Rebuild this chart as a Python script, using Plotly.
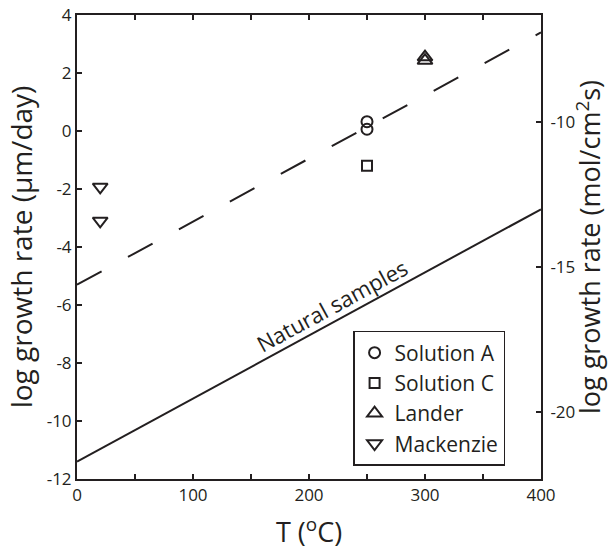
import plotly.graph_objects as go

# Measured growth rates, log10(um/day) versus temperature (deg C)
sol_a_T = [250, 250]
sol_a_rate = [0.32, 0.06]
sol_c_T = [250]
sol_c_rate = [-1.2]
lander_T = [300, 300]
lander_rate = [2.55, 2.43]
mackenzie_T = [20, 20]
mackenzie_rate = [-1.93, -3.1]

# Trend lines (end points at 0 and 400 deg C)
line_T = [0, 400]
dashed_rate = [-5.3, 3.4]
natural_rate = [-11.4, -2.7]

# Offset between log(um/day) and log(mol/cm^2 s)
unit_offset = 10.3

x_ticks = [0, 50, 100, 150, 200, 250, 300, 350, 400]
x_labels = ["0", "", "100", "", "200", "", "300", "", "400"]
y_ticks = [-12, -10, -8, -6, -4, -2, 0, 2, 4]
y_labels = ["-12", "-10", "-8", "-6", "-4", "-2", "0", "2", "4"]
y2_ticks = [-10, -15, -20]
y2_labels = ["-10", "-15", "-20"]

ink = "#231f20"
font_family = "Open Sans, Liberation Sans, sans-serif"

fig = go.Figure()

fig.add_trace(go.Scatter(
    x=line_T, y=dashed_rate, mode="lines", showlegend=False,
    line=dict(color=ink, width=2, dash="28px,30px"), hoverinfo="skip"))
fig.add_trace(go.Scatter(
    x=line_T, y=natural_rate, mode="lines", showlegend=False,
    line=dict(color=ink, width=2), hoverinfo="skip"))

def pts(x, y, name, symbol, size):
    return go.Scatter(
        x=x, y=y, mode="markers", name=name,
        marker=dict(symbol=symbol, size=size, color=ink,
                    line=dict(color=ink, width=2)))

fig.add_trace(pts(sol_a_T, sol_a_rate, "Solution A", "circle-open", 11))
fig.add_trace(pts(sol_c_T, sol_c_rate, "Solution C", "square-open", 10))
fig.add_trace(pts(lander_T, lander_rate, "Lander", "triangle-up-open", 13))
fig.add_trace(pts(mackenzie_T, mackenzie_rate, "Mackenzie", "triangle-down-open", 13))

# invisible trace so the secondary (mol/cm^2 s) axis is drawn
fig.add_trace(go.Scatter(
    x=line_T, y=[v - unit_offset for v in natural_rate], yaxis="y2",
    mode="lines", line=dict(width=0, color="rgba(0,0,0,0)"),
    showlegend=False, hoverinfo="skip"))

fig.add_annotation(
    x=220, y=-6.0, xref="x", yref="y", text="Natural samples",
    showarrow=False, textangle=-28.5,
    font=dict(family=font_family, size=22, color=ink))

fig.update_layout(
    width=608, height=550,
    margin=dict(l=76.5, r=67, t=15, b=71),
    paper_bgcolor="white", plot_bgcolor="white",
    font=dict(family=font_family, color=ink, size=17),
    xaxis=dict(
        range=[0, 400], tickvals=x_ticks, ticktext=x_labels,
        ticks="inside", ticklen=5, tickwidth=1.5, tickcolor=ink,
        showline=True, linecolor=ink, linewidth=2, mirror="ticks",
        showgrid=False, zeroline=False, automargin=False,
        title=dict(text="T (<sup>o</sup>C)", font=dict(size=27), standoff=27),
        tickfont=dict(size=17)),
    yaxis=dict(
        range=[-12, 4], tickvals=y_ticks, ticktext=y_labels,
        ticks="inside", ticklen=5, tickwidth=1.5, tickcolor=ink,
        showline=True, linecolor=ink, linewidth=2, mirror=False,
        showgrid=False, zeroline=False, automargin=False,
        title=dict(text="log growth rate (µm/day)", font=dict(size=28), standoff=6),
        tickfont=dict(size=17)),
    yaxis2=dict(
        range=[-12 - unit_offset, 4 - unit_offset], tickvals=y2_ticks,
        ticktext=y2_labels,
        overlaying="y", side="right",
        ticks="inside", ticklen=5, tickwidth=1.5, tickcolor=ink,
        showline=True, linecolor=ink, linewidth=2,
        showgrid=False, zeroline=False, ticklabelstandoff=4, automargin=False,
        title=dict(text="log growth rate (mol/cm<sup>2</sup>s)", font=dict(size=27), standoff=9),
        tickfont=dict(size=17)),
    legend=dict(
        x=0.595, y=0.319, xanchor="left", yanchor="top",
        bgcolor="white", bordercolor=ink, borderwidth=1.5,
        font=dict(size=21, family=font_family, color=ink),
        itemwidth=30, tracegroupgap=0),
    showlegend=True,
)

fig.write_html("out.html")
